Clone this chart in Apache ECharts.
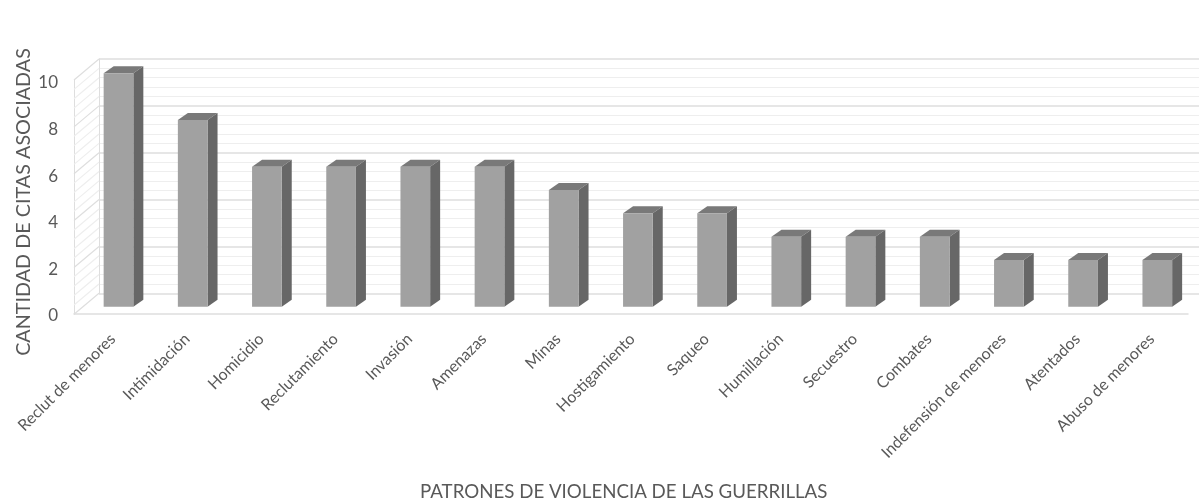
<!DOCTYPE html>
<html><head><meta charset="utf-8">
<style>html,body{margin:0;padding:0;background:#fff}#c{width:1200px;height:501px}</style>
<script src="https://cdn.jsdelivr.net/npm/echarts@6/dist/echarts.min.js"></script>
</head><body><div id="c"></div>
<script>
const categories = ['Reclut de menores','Intimidación','Homicidio','Reclutamiento','Invasión','Amenazas','Minas','Hostigamiento','Saqueo','Humillación','Secuestro','Combates','Indefensión de menores','Atentados','Abuso de menores'];
const citas = [10,8,6,6,6,6,5,4,4,3,3,3,2,2,2];
const wallMajor = [0,2,4,6,8,10];
const wallMinor = [0.4,0.8,1.2,1.6,2.4,2.8,3.2,3.6,4.4,4.8,5.2,5.6,6.4,6.8,7.2,7.6,8.4,8.8,9.2,9.6];
const xTitle = 'PATRONES DE VIOLENCIA DE LAS GUERRILLAS';
const yTitle = 'CANTIDAD DE CITAS ASOCIADAS';
const txt = '#595959', major = '#dedede', minor = '#eeeeee';
const font = 'Lato, sans-serif';
const DX = 10, DY = -7, WALLX = -25, WALLY = 21;

function wallItem(color){
  return function(params, api){
    const p = api.coord([api.value(0), api.value(1)]);
    return {type:'line', shape:{x1:p[0], y1:p[1], x2:p[0]+WALLX, y2:p[1]+WALLY},
      style:{stroke:color, lineWidth:1.2}};
  };
}
function barItem(params, api){
  const p = api.coord([api.value(0), api.value(1)]);
  const b = api.coord([api.value(0), 0]);
  const w = api.size([1,0])[0]*0.4;
  const l = p[0]-w/2, r = p[0]+w/2, t = p[1], bt = b[1];
  return {type:'group', children:[
    {type:'polygon', shape:{points:[[l,t],[l+DX,t+DY],[r+DX,t+DY],[r,t]]}, style:{fill:'#797979'}},
    {type:'polygon', shape:{points:[[r,t],[r+DX,t+DY],[r+DX,bt+DY],[r,bt]]}, style:{fill:'#676767'}},
    {type:'rect', shape:{x:l,y:t,width:w,height:bt-t}, style:{fill:'#a1a1a1'}}
  ]};
}
const chart = echarts.init(document.getElementById('c'), null, {renderer:'canvas'});
chart.setOption({
  animation:false,
  backgroundColor:'#fff',
  title:{text:xTitle, left:420, top:482, padding:0, textStyle:{color:txt, fontFamily:font, fontSize:18.7, fontWeight:'normal'}},
  graphic:[{type:'text', x:24, y:202, rotation:Math.PI/2,
    style:{text:yTitle, fill:txt, font:'19.8px '+font, align:'center', verticalAlign:'middle'}}],
  grid:[
    {left:74, width:1114, top:80, height:234, outerBoundsMode:'none'},
    {left:99, width:1100, top:59, height:234.3, outerBoundsMode:'none'},
    {left:81.4, width:1113, top:73.3, height:233.4, outerBoundsMode:'none'},
    {left:74, width:1114, top:83, height:233, outerBoundsMode:'none'}
  ],
  xAxis:[
    {gridIndex:0, type:'category', data:categories, axisTick:{show:false}, axisLabel:{show:false},
     axisLine:{lineStyle:{color:major,width:1.5}}},
    {gridIndex:1, type:'category', boundaryGap:false, data:categories, axisTick:{show:false}, axisLabel:{show:false}, axisLine:{show:false}},
    {gridIndex:2, type:'category', data:categories, axisTick:{show:false}, axisLine:{show:false},
     axisLabel:{interval:0, rotate:45, margin:24, padding:[0,8,0,0], color:txt, fontFamily:font, fontSize:16}},
    {gridIndex:3, type:'category', data:categories, show:false}
  ],
  yAxis:[
    {gridIndex:0, type:'value', min:0, max:10, interval:2, splitLine:{show:false}, axisTick:{show:false},
     axisLine:{show:true, lineStyle:{color:major}}, axisLabel:{show:false}},
    {gridIndex:1, type:'value', min:0, max:10, interval:2, axisTick:{show:false}, axisLabel:{show:false},
     axisLine:{show:true, lineStyle:{color:major}},
     splitLine:{show:true, lineStyle:{color:major,width:1.5}},
     minorTick:{show:false, splitNumber:5},
     minorSplitLine:{show:true, lineStyle:{color:minor,width:1}}},
    {gridIndex:2, type:'value', min:0, max:10, interval:2, show:false, splitLine:{show:false}},
    {gridIndex:3, type:'value', min:0, max:10, interval:2, splitLine:{show:false}, axisTick:{show:false},
     axisLine:{show:false},
     axisLabel:{color:txt, fontFamily:font, fontSize:17, margin:16}}
  ],
  series:[
    {type:'custom', xAxisIndex:1, yAxisIndex:1, silent:true, z:1, clip:false, renderItem:wallItem(minor),
     encode:{x:0,y:1}, data:wallMinor.map(v=>[0,v])},
    {type:'custom', xAxisIndex:1, yAxisIndex:1, silent:true, z:1, clip:false, renderItem:wallItem(major),
     encode:{x:0,y:1}, data:wallMajor.map(v=>[0,v])},
    {type:'custom', xAxisIndex:2, yAxisIndex:2, z:5, clip:false, renderItem:barItem,
     encode:{x:0,y:1}, data:citas.map((v,i)=>[i,v])}
  ]
});
</script></body></html>
